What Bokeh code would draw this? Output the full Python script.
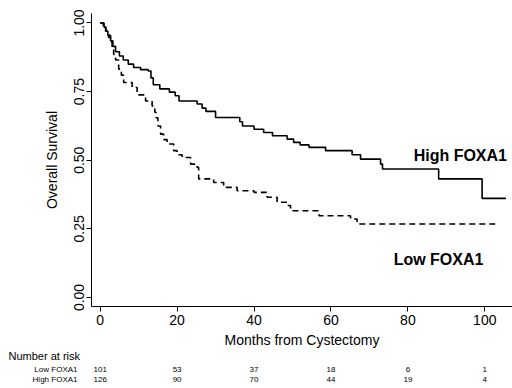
from bokeh.plotting import figure
from bokeh.layouts import column
from bokeh.models import Label, FixedTicker, NumeralTickFormatter, Range1d
from bokeh.core.properties import value
from bokeh.embed import file_html
from bokeh.resources import INLINE

# ---- data ----
high_time = [0, 1.0, 1.5, 2.0, 2.7, 3.3, 4.0, 5.0, 6.0, 7.3, 8.7, 10.5, 12.5, 13.2, 13.8,
             15.5, 18.0, 19.5, 20.5, 25.2, 26.5, 27.5, 30.0, 36.3, 37.0, 40.0, 42.5, 44.8,
             48.6, 50.3, 52.0, 54.3, 58.6, 65.5, 67.7, 72.9, 73.4, 88.0, 99.3, 105.5]
high_surv = [1.0, 0.985, 0.97, 0.955, 0.935, 0.915, 0.895, 0.88, 0.865, 0.85, 0.838, 0.83,
             0.825, 0.80, 0.775, 0.76, 0.748, 0.735, 0.716, 0.705, 0.69, 0.678, 0.656, 0.64,
             0.625, 0.613, 0.601, 0.589, 0.577, 0.565, 0.556, 0.547, 0.535, 0.52, 0.504,
             0.486, 0.468, 0.432, 0.361, 0.361]

low_time = [0, 0.8, 1.4, 2.2, 2.7, 3.1, 3.5, 4.0, 4.8, 5.5, 6.1, 8.3, 9.6, 11.8, 13.5, 14.2,
            14.5, 15.0, 15.7, 16.5, 17.4, 19.1, 20.0, 21.3, 23.5, 25.2, 25.6, 29.5, 32.1,
            35.6, 40.0, 43.4, 46.0, 48.6, 49.5, 56.9, 65.1, 66.8, 102.8]
low_surv = [1.0, 0.985, 0.97, 0.947, 0.93, 0.91, 0.885, 0.865, 0.832, 0.81, 0.783, 0.765,
            0.738, 0.716, 0.698, 0.675, 0.655, 0.625, 0.595, 0.575, 0.559, 0.535, 0.52, 0.51,
            0.486, 0.474, 0.432, 0.419, 0.401, 0.389, 0.383, 0.365, 0.347, 0.335, 0.316,
            0.298, 0.286, 0.268, 0.268]

x_ticks = [0, 20, 40, 60, 80, 100]
y_ticks = [0, 0.25, 0.5, 0.75, 1.0]
risk_low = [101, 53, 37, 18, 6, 1]
risk_high = [126, 90, 70, 44, 19, 4]
group_names = ["Low FOXA1", "High FOXA1"]

FONT = "Liberation Sans"
W = 512
H1 = 350
H2 = 38
PX_PER_MONTH = 3.846
X0_PX = 99.7  # pixel position of month 0

# ---- main survival plot ----
p = figure(width=W, height=H1, output_backend="svg", toolbar_location=None,
           x_range=Range1d(-(X0_PX - 91) / PX_PER_MONTH, (W - X0_PX) / PX_PER_MONTH),
           y_range=Range1d(-0.0328, 1.0346),
           min_border_left=91, min_border_top=13, min_border_right=0, min_border_bottom=H1 - 306)
p.frame_align = False
p.outline_line_color = None
p.xgrid.visible = False
p.ygrid.visible = False
p.background_fill_color = "white"

p.step(high_time, high_surv, mode="after", line_color="black", line_width=1.6)
p.step(low_time, low_surv, mode="after", line_color="black", line_width=1.6, line_dash="6 4")

for ax in (p.xaxis[0], p.yaxis[0]):
    ax.axis_line_color = "black"
    ax.major_tick_line_color = "black"
    ax.major_tick_out = 5
    ax.major_tick_in = 0
    ax.minor_tick_line_color = None
    ax.major_label_text_font = FONT
    ax.major_label_text_font_size = "14px"
    ax.major_label_text_color = "black"
    ax.axis_label_text_font = FONT
    ax.axis_label_text_font_size = "14px"
    ax.axis_label_text_font_style = "normal"
    ax.axis_label_text_color = "black"

p.xaxis.ticker = FixedTicker(ticks=x_ticks)
p.yaxis.ticker = FixedTicker(ticks=y_ticks)
p.yaxis.formatter = NumeralTickFormatter(format="0.00")
p.yaxis.major_label_orientation = "vertical"
p.xaxis.axis_label = "Months from Cystectomy"
p.yaxis.axis_label = "Overall Survival"
p.xaxis.major_label_standoff = 3
p.yaxis.major_label_standoff = 2
p.xaxis.axis_label_standoff = 4
p.yaxis.axis_label_standoff = 12

p.add_layout(Label(x=81.5, y=0.517, text="High FOXA1", text_font=FONT, text_font_size="16px",
                   text_font_style="bold", text_baseline="middle", text_color="black"))
p.add_layout(Label(x=76.3, y=0.138, text="Low FOXA1", text_font=FONT, text_font_size="16px",
                   text_font_style="bold", text_baseline="middle", text_color="black"))

# ---- number at risk table (y measured in pixels downward) ----
p2 = figure(width=W, height=H2, output_backend="svg", toolbar_location=None,
            x_range=Range1d(-X0_PX / PX_PER_MONTH, (W - X0_PX) / PX_PER_MONTH),
            y_range=Range1d(H2, 0),
            min_border=0, min_border_left=0, min_border_right=0,
            min_border_top=0, min_border_bottom=0)
p2.frame_align = False
p2.axis.visible = False
p2.grid.visible = False
p2.outline_line_color = None

p2.text(x=[(8 - X0_PX) / PX_PER_MONTH], y=[5], text=["Number at risk"],
        text_font=value(FONT), text_font_size="11px", text_baseline="middle", text_color="black")
p2.text(x=[(77 - X0_PX) / PX_PER_MONTH] * 2, y=[19, 29], text=group_names,
        text_font=value(FONT), text_font_size="8px", text_align="right",
        text_baseline="middle", text_color="black")
p2.text(x=x_ticks, y=[19] * len(x_ticks), text=[str(v) for v in risk_low],
        text_font=value(FONT), text_font_size="8px", text_align="center",
        text_baseline="middle", text_color="black")
p2.text(x=x_ticks, y=[29] * len(x_ticks), text=[str(v) for v in risk_high],
        text_font=value(FONT), text_font_size="8px", text_align="center",
        text_baseline="middle", text_color="black")

layout = column(p, p2, spacing=0)
open("out.html", "w").write(file_html(layout, INLINE))
